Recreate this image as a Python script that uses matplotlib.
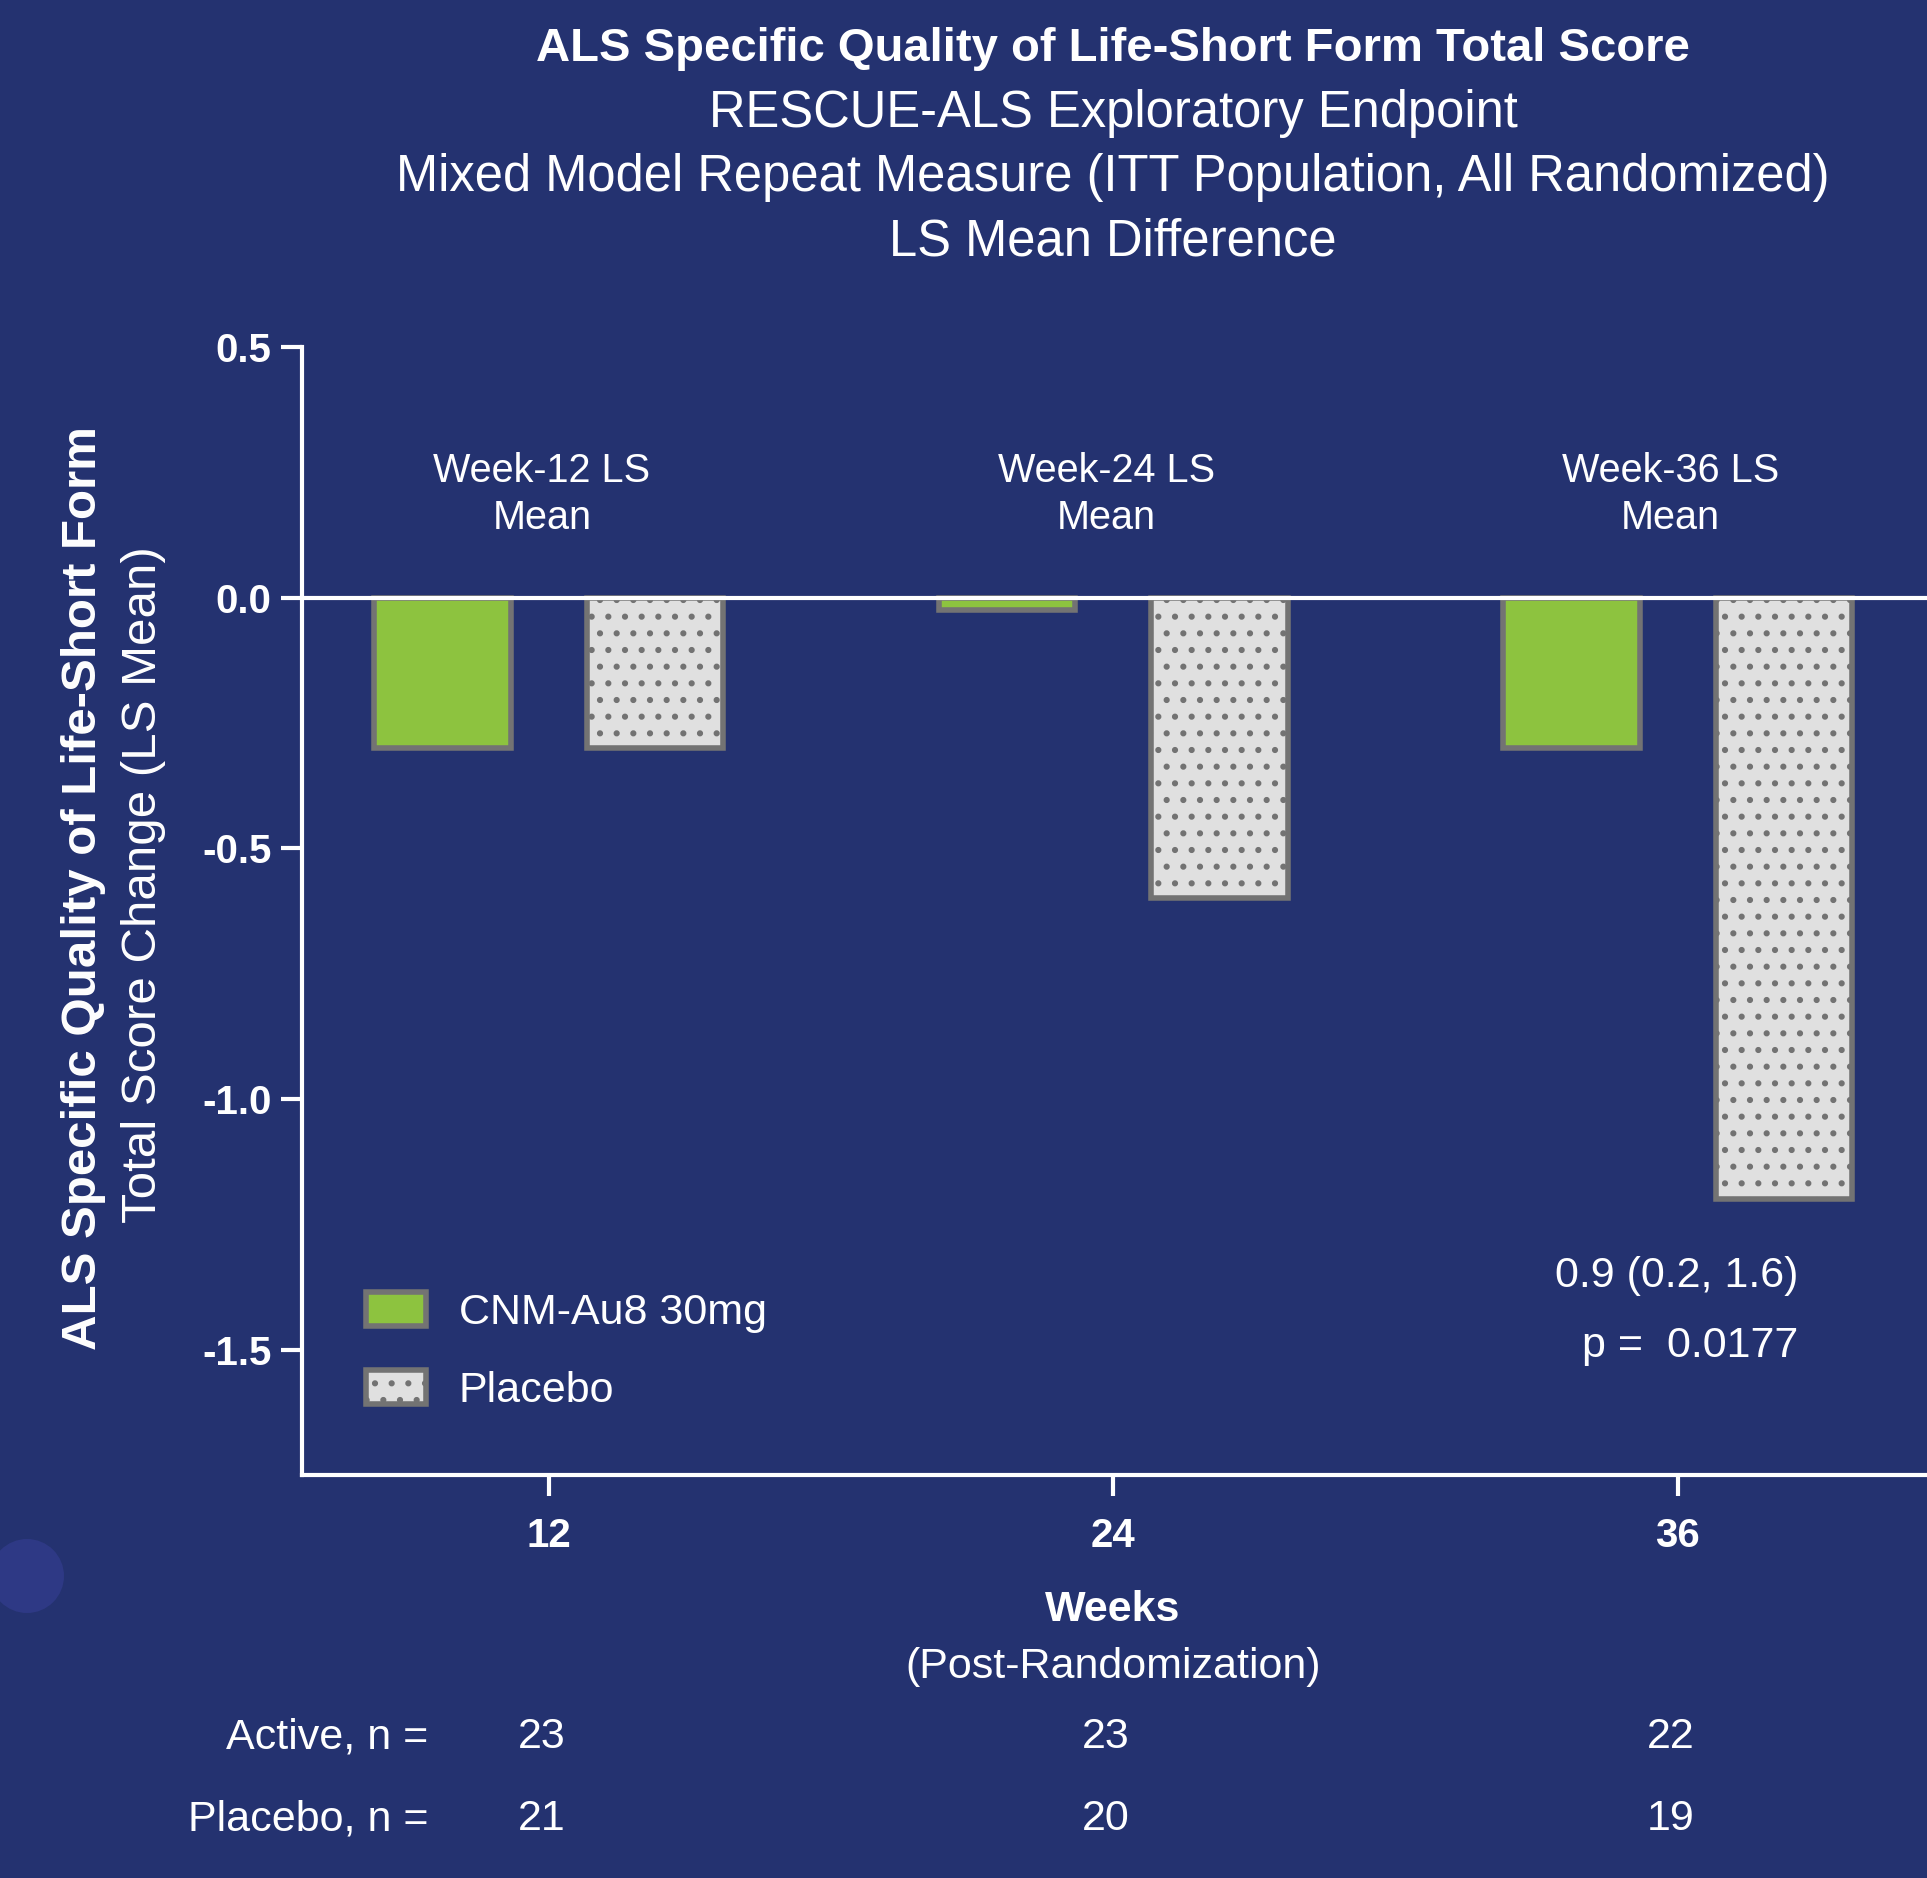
import numpy as np
import matplotlib
matplotlib.use("Agg")
import matplotlib.pyplot as plt
from matplotlib.patches import Patch, Ellipse
from matplotlib.transforms import blended_transform_factory

# LS mean change by visit
weeks = [12, 24, 36]
active = [-0.3, -0.025, -0.3]
placebo = [-0.3, -0.6, -1.2]
n_active = [23, 23, 22]
n_placebo = [21, 20, 19]
week_labels = ['Week-12 LS\nMean', 'Week-24 LS\nMean', 'Week-36 LS\nMean']

bg = '#243270'
green = '#8dc33f'
grey_fill = '#e0e0e0'
edge = '#737373'

plt.rcParams['font.family'] = ['Liberation Sans', 'DejaVu Sans']
plt.rcParams['hatch.linewidth'] = 2.0

fig = plt.figure(figsize=(19.27, 18.78), dpi=100, facecolor=bg)
ax = fig.add_axes([0.1567, 0.2146, 1 - 0.1567, 0.6006], facecolor=bg)

x = np.array(weeks, dtype=float)
off, w = 2.26, 2.9
ax.bar(x - off, active, width=w, color=green, edgecolor=edge, linewidth=4, zorder=2)
ax.bar(x + off, placebo, width=w, color=grey_fill, edgecolor=edge, linewidth=4,
       hatch='.', zorder=2)
ax.axhline(0, color='white', lw=3, zorder=3)

ax.set_xlim(6.75, 41.3)
ax.set_ylim(-1.75, 0.5)
ax.set_yticks([0.5, 0.0, -0.5, -1.0, -1.5])
ax.set_yticklabels(['0.5', '0.0', '-0.5', '-1.0', '-1.5'])
ax.set_xticks(weeks)
ax.set_xticklabels([str(v) for v in weeks])

for s in ['top', 'right']:
    ax.spines[s].set_visible(False)
for s in ['left', 'bottom']:
    ax.spines[s].set_color('white')
    ax.spines[s].set_linewidth(3)
ax.tick_params(colors='white', width=3, length=15, labelsize=29)
ax.tick_params(axis='y', pad=7)
ax.tick_params(axis='x', pad=15, labelsize=29)
for lab in ax.get_xticklabels() + ax.get_yticklabels():
    lab.set_fontweight('bold')

for wk, lab in zip(weeks, week_labels):
    ax.text(wk - 0.15, 0.205, lab, color='white', fontsize=28.5, ha='center',
            va='center', linespacing=1.3)

ax.text(38.57, -1.353, '0.9 (0.2, 1.6)', color='white', fontsize=31,
        ha='right', va='center')
ax.text(38.57, -1.492, 'p =  0.0177', color='white', fontsize=31,
        ha='right', va='center')

handles = [Patch(facecolor=green, edgecolor=edge, linewidth=4, label='CNM-Au8 30mg'),
           Patch(facecolor=grey_fill, edgecolor=edge, linewidth=4, hatch='.',
                 label='Placebo')]
leg = fig.legend(handles=handles, loc='center left', bbox_to_anchor=(0.19, 0.2805),
                 frameon=False, fontsize=31, handlelength=1.4, handleheight=0.86,
                 handletextpad=0.75, labelspacing=0.85, borderpad=0, borderaxespad=0)
for t in leg.get_texts():
    t.set_color('white')

# titles
W, H = 1927.0, 1878.0
fig.text(1113 / W, 1 - 49 / H, 'ALS Specific Quality of Life-Short Form Total Score',
         color='white', fontsize=34, fontweight='bold', ha='center', va='center')
fig.text(1113 / W, 1 - 113 / H, 'RESCUE-ALS Exploratory Endpoint',
         color='white', fontsize=36.5, ha='center', va='center')
fig.text(1113 / W, 1 - 178 / H, 'Mixed Model Repeat Measure (ITT Population, All Randomized)',
         color='white', fontsize=36.5, ha='center', va='center')
fig.text(1113 / W, 1 - 242 / H, 'LS Mean Difference',
         color='white', fontsize=36.5, ha='center', va='center')

# y label, two lines
fig.text(84 / W, 1 - 888 / H, 'ALS Specific Quality of Life-Short Form', color='white',
         fontsize=35.5, fontweight='bold', rotation=90, ha='center', va='center')
fig.text(144 / W, 1 - 885 / H, 'Total Score Change (LS Mean)', color='white',
         fontsize=35.5, rotation=90, ha='center', va='center')

# x label
fig.text(1113 / W, 1 - 1610 / H, 'Weeks', color='white', fontsize=31,
         fontweight='bold', ha='center', va='center')
fig.text(1113 / W, 1 - 1667 / H, '(Post-Randomization)', color='white', fontsize=31,
         ha='center', va='center')

# n table under the axis
trans = blended_transform_factory(ax.transData, fig.transFigure)
fig.text(428 / W, 1 - 1737 / H, 'Active, n =', color='white', fontsize=31,
         ha='right', va='center')
fig.text(428 / W, 1 - 1819 / H, 'Placebo, n =', color='white', fontsize=31,
         ha='right', va='center')
for wk, na, npl in zip(weeks, n_active, n_placebo):
    ax.text(wk - 0.15, 1 - 1737 / H, str(na), color='white', fontsize=31,
            ha='center', va='center', transform=trans, clip_on=False)
    ax.text(wk - 0.15, 1 - 1819 / H, str(npl), color='white', fontsize=31,
            ha='center', va='center', transform=trans, clip_on=False)

# faint decorative dot in the slide background
fig.patches.append(Ellipse((27 / W, 1 - 1576 / H), 74 / W, 74 / H,
                           transform=fig.transFigure, facecolor='#2e3985',
                           edgecolor='none', zorder=0))

fig.savefig('out.png', dpi=100, facecolor=bg)
